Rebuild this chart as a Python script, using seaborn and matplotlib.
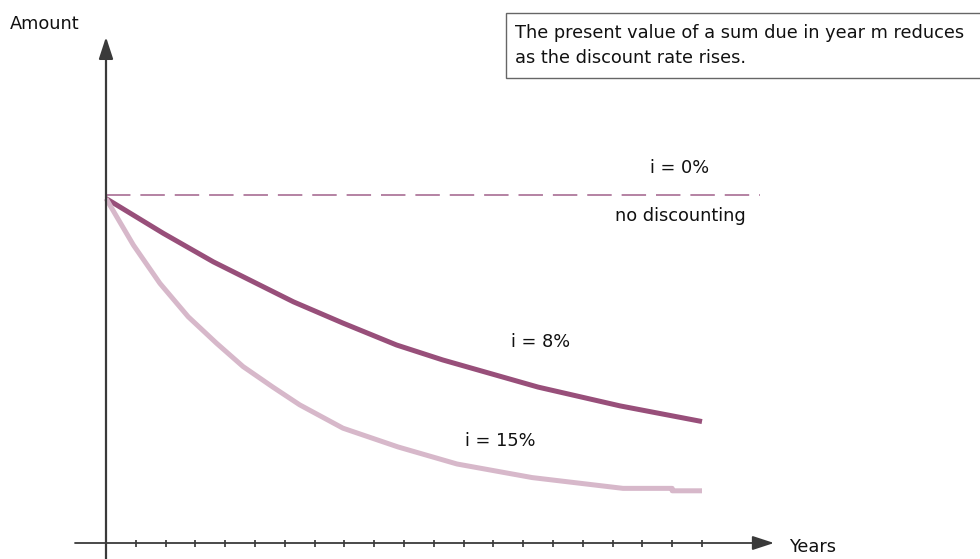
import matplotlib
matplotlib.use("Agg")
import matplotlib.pyplot as plt
import seaborn as sns
import pandas as pd
from matplotlib.patches import Rectangle

# Present value of 1 unit due in year m, for three discount rates
years_8 = [0, 1.92, 3.6, 6.29, 7.95, 9.75, 11.3, 14.5, 17.25, 20]
pv_8 = [0.99, 0.89, 0.808, 0.693, 0.632, 0.569, 0.526, 0.448, 0.394, 0.349]

years_15 = [0, 0.92, 1.81, 2.76, 3.71, 4.6, 5.6, 6.5, 7.95, 9.8, 11.78, 14.3, 17.35,
            19.0, 19.0, 20]
pv_15 = [0.99, 0.856, 0.746, 0.65, 0.574, 0.507, 0.448, 0.397, 0.33, 0.276, 0.227,
         0.188, 0.157, 0.157, 0.15, 0.15]

pv_0 = 1.0
year_ticks = list(range(1, 21))

title_text = "The present value of a sum due in year m reduces\nas the discount rate rises."
label_0 = "i = 0%"
label_0_note = "no discounting"
label_8 = "i = 8%"
label_15 = "i = 15%"

sns.set_theme(style="white")
plt.rcParams["font.family"] = ["DejaVu Sans"]

W, H = 980, 559
fig = plt.figure(figsize=(W / 100, H / 100), dpi=100)
ax = fig.add_axes([0, 0, 1, 1])
ax.set_axis_off()

# pixel layout of the plotting frame
x0_px, px_per_year = 106, 29.8
y0_px, px_per_unit = 543, 348
ax.set_xlim((0 - x0_px) / px_per_year, (W - x0_px) / px_per_year)
ax.set_ylim((y0_px - H) / px_per_unit, y0_px / px_per_unit)

dark = "#984f7a"
light = "#d7b8ca"
dash_col = "#a0608a"
axis_col = "#3a3a3a"
text_col = "#111111"

df = pd.concat([
    pd.DataFrame({"year": years_8, "pv": pv_8, "rate": "8%"}),
    pd.DataFrame({"year": years_15, "pv": pv_15, "rate": "15%"}),
])
sns.lineplot(data=df, x="year", y="pv", hue="rate", sort=False,
             palette={"8%": dark, "15%": light}, linewidth=3.6,
             legend=False, ax=ax, solid_capstyle="butt", estimator=None)

# no-discounting reference level
ax.plot([0, (760 - x0_px) / px_per_year], [pv_0, pv_0], color=dash_col,
        lw=1.1, dashes=(16, 6.5))


def px_x(px):
    return (px - x0_px) / px_per_year


def px_y(py):
    return (y0_px - py) / px_per_unit


# axes with arrowheads
ax.annotate("", xy=(0, px_y(37)), xytext=(0, px_y(559)),
            arrowprops=dict(arrowstyle="-|>,head_length=1.1,head_width=0.36",
                            color=axis_col, lw=1.6, shrinkA=0, shrinkB=0),
            zorder=5)
ax.annotate("", xy=(px_x(774), 0), xytext=(px_x(75), 0),
            arrowprops=dict(arrowstyle="-|>,head_length=1.1,head_width=0.36",
                            color=axis_col, lw=1.3, shrinkA=0, shrinkB=0),
            zorder=5)
ax.vlines(year_ticks, -3.5 / px_per_unit, 3.5 / px_per_unit, color="#222222", lw=1.1)

# labels
fs = 12.8
fig.text(10 / W, 1 - 24 / H, "Amount", fontsize=fs, va="center", ha="left", color=text_col)
fig.text(789 / W, 1 - 547 / H, "Years", fontsize=fs, va="center", ha="left", color=text_col)
fig.text(680 / W, 1 - 168 / H, label_0, fontsize=fs, va="center", ha="center", color=text_col)
fig.text(680 / W, 1 - 216 / H, label_0_note, fontsize=fs, va="center", ha="center", color=text_col)
fig.text(541 / W, 1 - 342 / H, label_8, fontsize=fs, va="center", ha="center", color=text_col)
fig.text(500 / W, 1 - 441 / H, label_15, fontsize=fs, va="center", ha="center", color=text_col)

# note box
fig.patches.append(Rectangle((506 / W, 1 - 78 / H), (W + 5 - 506) / W, 65 / H,
                             transform=fig.transFigure, facecolor="white",
                             edgecolor="#666666", lw=1.0))
fig.text(515 / W, 1 - 45.5 / H, title_text, fontsize=fs, va="center", ha="left",
         color=text_col, linespacing=1.5)

fig.savefig("out.png", dpi=100)
